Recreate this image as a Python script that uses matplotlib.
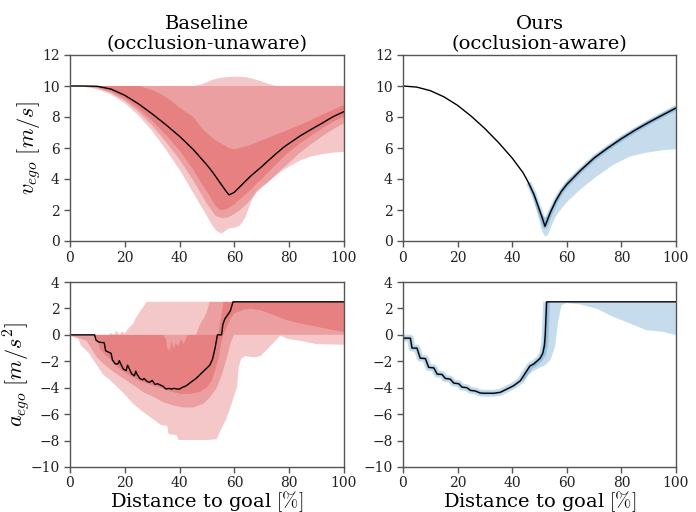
import numpy as np
import matplotlib
matplotlib.use("Agg")
import matplotlib.pyplot as plt

plt.rcParams['font.family'] = ['DejaVu Serif']
plt.rcParams['mathtext.fontset'] = 'cm'

# ---------------- Top-left: baseline velocity ----------------
tl_x = [0, 5, 10, 15, 20, 25, 30, 35, 40, 45, 48, 50, 52, 53, 54, 55, 56, 57, 58, 59, 60,
        62, 64, 66, 68, 70, 72, 75, 78, 80, 84, 88, 92, 96, 100]
tl_median = [10, 10, 9.98, 9.8, 9.4, 8.85, 8.2, 7.5, 6.75, 5.9, 5.3, 4.9, 4.45, 4.2, 3.95, 3.7,
             3.45, 3.2, 2.98, 3.05, 3.15, 3.5, 3.85, 4.2, 4.5, 4.8, 5.13, 5.6, 6.05, 6.3, 6.78,
             7.2, 7.6, 8.02, 8.35]
tl_outer_lo = [10, 9.95, 9.8, 9.45, 8.9, 8.1, 7.1, 5.9, 4.6, 3.1, 2.2, 1.6, 1.0, 0.75, 0.6, 0.5,
               0.55, 0.7, 0.8, 0.85, 0.85, 1.0, 1.5, 2.5, 3.2, 3.5, 3.75, 4.2, 4.6, 4.8, 5.2,
               5.45, 5.6, 5.7, 5.75]
tl_outer_hi = [10, 10, 10, 10, 10, 10, 10, 10, 10, 10, 10.1, 10.25, 10.4, 10.45, 10.5, 10.52,
               10.55, 10.57, 10.58, 10.6, 10.6, 10.6, 10.57, 10.5, 10.4, 10.3, 10.15, 10.02, 10,
               10, 10, 10, 10, 10, 10]
tl_mid_lo = [10, 9.97, 9.85, 9.55, 9.05, 8.35, 7.45, 6.4, 5.25, 3.9, 3.0, 2.4, 1.9, 1.65, 1.55,
             1.5, 1.48, 1.5, 1.55, 1.65, 1.75, 2.0, 2.3, 2.7, 3.1, 3.45, 3.75, 4.25, 4.75, 5.05,
             5.7, 6.25, 6.75, 7.2, 7.6]
tl_mid_hi = [10] * 35
tl_inner_lo = [10, 9.98, 9.9, 9.65, 9.2, 8.55, 7.75, 6.85, 5.85, 4.6, 3.7, 3.2, 2.6, 2.3, 2.1,
               2.0, 2.0, 2.05, 2.15, 2.25, 2.35, 2.7, 3.0, 3.3, 3.7, 4.0, 4.38, 4.9, 5.45, 5.75,
               6.3, 6.8, 7.25, 7.7, 8.02]
tl_inner_hi = [10, 10, 10, 10, 10, 10, 9.75, 9.3, 8.6, 8.0, 7.3, 6.95, 6.65, 6.52, 6.4, 6.3,
               6.2, 6.1, 6.0, 5.95, 5.92, 6.0, 6.1, 6.2, 6.35, 6.5, 6.63, 6.85, 7.06, 7.2, 7.49,
               7.8, 8.15, 8.45, 8.78]

# ---------------- Top-right: ours velocity ----------------
tr_x = [0, 5, 10, 15, 20, 25, 30, 35, 40, 44, 46, 48, 50, 51, 52, 53, 54, 56, 58, 60, 65, 70,
        75, 80, 85, 90, 95, 100]
tr_median = [10, 9.93, 9.7, 9.3, 8.75, 8.05, 7.25, 6.35, 5.35, 4.4, 3.75, 3.0, 2.0, 1.5, 0.95,
             1.4, 1.85, 2.6, 3.2, 3.65, 4.55, 5.35, 6.0, 6.6, 7.15, 7.65, 8.12, 8.58]
tr_band_hi_x = [45, 48, 50, 51, 52, 53, 54, 56, 60, 70, 80, 90, 100]
tr_band_hi = [4.2, 3.1, 2.15, 1.7, 1.5, 1.7, 2.05, 2.8, 3.85, 5.5, 6.75, 7.8, 8.75]
tr_band_lo_x = [45, 46, 48, 50, 51, 52, 53, 54, 56, 58.7, 60, 64.8, 70.9, 77, 83.1, 89.2, 95,
                100]
tr_band_lo = [4.05, 3.6, 2.6, 1.3, 0.6, 0.3, 0.35, 0.8, 1.6, 2.23, 2.5, 3.3, 4.16, 4.91, 5.45,
              5.7, 5.85, 5.92]

# ---------------- Bottom-left: baseline acceleration ----------------
bl_med_x = [0, 9, 9.5, 10.5, 12.5, 13, 15, 15.5, 16.5, 17.5, 18, 18.5, 19.5, 20.5, 21, 21.5,
            22.5, 23.5, 24, 24.5, 25.5, 26.5, 27, 28, 29, 30, 31, 32, 33, 34, 35, 36, 37, 38,
            39, 40, 41, 42, 43, 44, 45, 46, 47, 48, 49, 50, 51, 52, 53, 53.8, 55.3, 55.8, 56.5,
            57.5, 58.5, 59.5, 100]
bl_median = [0, 0, -0.4, -0.55, -0.6, -1.2, -1.4, -1.9, -2.2, -2.2, -1.95, -2.2, -2.6, -2.7,
             -2.3, -2.5, -2.95, -3.1, -2.75, -3.0, -3.3, -3.4, -3.3, -3.5, -3.6, -3.45, -3.75,
             -3.7, -3.8, -3.9, -4.1, -4.05, -4.1, -4.05, -4.1, -4.1, -3.97, -3.9, -3.77, -3.6,
             -3.45, -3.3, -3.1, -2.9, -2.7, -2.5, -2.3, -1.85, -0.95, 0, 0, 0.8, 1.2, 1.5, 1.8,
             2.5, 2.5]
bl_outer_hi_x = [0, 14, 15, 16, 17, 18, 19, 20, 21, 21.8, 22.9, 24.1, 25, 26, 27, 27.9, 100]
bl_outer_hi = [0, 0, 0.15, 0, 0.3, 0, 0.25, 0.1, 0.4, 0.6, 0.8, 1.3, 1.6, 1.9, 2.2, 2.5, 2.5]
bl_outer_lo_x = [0, 3, 4, 5, 7, 8.5, 10.5, 12, 14.5, 17, 19.5, 23, 27, 30.5, 33, 35.5, 36, 39,
                 39.6, 50, 53.5, 55, 57, 59, 61, 61.6, 62.5, 64, 67, 69.5, 72, 74.5, 76.8, 79.3,
                 84, 90, 100]
bl_outer_lo = [-0.1, -0.3, -0.8, -1.0, -1.4, -1.9, -2.5, -3.0, -3.4, -3.9, -4.4, -5.2, -5.9,
               -6.4, -6.8, -6.9, -7.5, -7.6, -7.96, -7.96, -7.9, -7.2, -6.4, -5.2, -3.9, -2.4,
               -1.8, -1.6, -1.7, -1.6, -1.1, -0.55, -0.05, -0.3, -0.45, -0.7, -0.75]
bl_mid_hi_x = [0, 46, 47, 48, 49, 50, 51, 100]
bl_mid_hi = [0, 0, 0.6, 1.0, 1.3, 1.8, 2.5, 2.5]
bl_mid_lo_x = [0, 6, 9.8, 12.2, 15.9, 19.5, 23.2, 26.8, 30.5, 34.1, 37.8, 41.5, 45.1, 48.8, 51.2,
               53.7, 55.5, 57.3, 58.5, 59.8, 100]
bl_mid_lo = [0, -0.45, -1.7, -2.2, -2.8, -3.3, -3.8, -4.35, -4.7, -5.1, -5.35, -5.5, -5.5, -5.2,
             -4.7, -3.97, -2.96, -1.7, -0.7, 0, 0]
bl_inner_hi_x = [0, 34, 35, 35.5, 36.5, 37, 38, 38.5, 39.5, 40.5, 41.5, 42.5, 43, 54, 55, 56, 100]
bl_inner_hi = [0, 0, -0.3, -1.0, -1.2, -0.5, -1.1, -0.6, -0.9, -0.3, -0.7, -0.2, 0, 0, 1.2, 2.5,
               2.5]
bl_inner_lo_x = [0, 9, 9.8, 11, 13.4, 15.9, 18.3, 22, 25.6, 29.3, 32.9, 36.6, 40.2, 43.9, 47.6,
                 50, 51.8, 53, 54.3, 55.1, 55.9, 57.3, 58.5, 59.8, 63.4, 65.9, 69.6, 74.5, 79.3,
                 84.2, 90.3, 96.4, 100]
bl_inner_lo = [0, 0, -0.3, -1.1, -1.6, -2.1, -2.6, -3.1, -3.5, -3.77, -4.0, -4.27, -4.47, -4.47,
               -4.3, -3.97, -3.47, -2.7, -1.7, -0.7, 0, 0.6, 1.2, 1.6, 1.91, 1.98, 1.86, 1.49,
               1.11, 0.86, 0.6, 0.35, 0.23]

# ---------------- Bottom-right: ours acceleration ----------------
br_med_x = [0, 2.7, 3.3, 5.1, 6.3, 8.2, 9.4, 11.3, 12.5, 14.3, 15.5, 17.3, 18.6, 20.4, 21.6,
            23.4, 24.7, 26.5, 28.3, 30, 33.2, 35.6, 38.1, 40.5, 43, 45.4, 46.5, 47.9, 49, 50.2,
            51.2, 51.8, 52.1, 52.4, 52.6, 100]
br_median = [-0.25, -0.25, -1.0, -1.0, -1.76, -1.8, -2.46, -2.5, -2.97, -3.0, -3.3, -3.35,
             -3.65, -3.7, -3.95, -4.0, -4.2, -4.25, -4.4, -4.42, -4.42, -4.35, -4.1, -3.85,
             -3.47, -2.7, -2.35, -2.2, -2.0, -1.78, -1.4, -0.8, 0, 1.5, 2.5, 2.5]
br_band_hi_x = [44, 46, 48, 50, 51, 52, 52.6, 100]
br_band_hi = [-3.2, -2.5, -2.1, -1.7, -1.3, 0, 2.5, 2.5]
br_band_lo_x = [44, 46, 48, 50, 52, 54, 55.7, 56.9, 58.1, 59.9, 64.8, 70.9, 77, 83.1, 89.2, 95.2,
                100]
br_band_lo = [-3.6, -3.0, -2.7, -2.5, -2.3, -1.9, -0.9, 1.1, 2.24, 2.41, 2.3, 1.99, 1.36, 0.86,
              0.35, 0.23, -0.02]

titles = ["Baseline\n(occlusion-unaware)", "Ours\n(occlusion-aware)"]
xlabel = "Distance to goal $[\\%]$"
ylabels = ["$v_{ego}\\ [m/s]$", "$a_{ego}\\ [m/s^2]$"]
xticks = [0, 20, 40, 60, 80, 100]
v_ticks = [0, 2, 4, 6, 8, 10, 12]
a_ticks = [-10, -8, -6, -4, -2, 0, 2, 4]

RED = '#d62728'
BLUE = '#1f77b4'
A = 0.25


def band(ax, xh, yh, xl, yl, color, alpha=A):
    px = np.concatenate([np.asarray(xh, float), np.asarray(xl, float)[::-1]])
    py = np.concatenate([np.asarray(yh, float), np.asarray(yl, float)[::-1]])
    ax.fill(px, py, color=color, alpha=alpha, lw=0)


fig = plt.figure(figsize=(6.96, 5.12), dpi=100)
L1, R1 = 70 / 696, 344 / 696
L2, R2 = 403 / 696, 676 / 696
T1, B1 = 1 - 55 / 512, 1 - 241 / 512
T2, B2 = 1 - 282 / 512, 1 - 467 / 512
ax_tl = fig.add_axes([L1, B1, R1 - L1, T1 - B1])
ax_tr = fig.add_axes([L2, B1, R2 - L2, T1 - B1])
ax_bl = fig.add_axes([L1, B2, R1 - L1, T2 - B2])
ax_br = fig.add_axes([L2, B2, R2 - L2, T2 - B2])

# TL
band(ax_tl, tl_x, tl_outer_hi, tl_x, tl_outer_lo, RED)
band(ax_tl, tl_x, tl_mid_hi, tl_x, tl_mid_lo, RED)
band(ax_tl, tl_x, tl_inner_hi, tl_x, tl_inner_lo, RED)
ax_tl.plot(tl_x, tl_median, color='black', lw=1.0)

# TR
band(ax_tr, tr_band_hi_x, tr_band_hi, tr_band_lo_x, tr_band_lo, BLUE)
ax_tr.plot(tr_x[10:], tr_median[10:], color=BLUE, lw=4, alpha=0.2, solid_capstyle='butt')
ax_tr.plot(tr_x[10:], tr_median[10:], color=BLUE, lw=2.2, alpha=0.25, solid_capstyle='butt')
ax_tr.plot(tr_x, tr_median, color='black', lw=1.0)

# BL
band(ax_bl, bl_outer_hi_x, bl_outer_hi, bl_outer_lo_x, bl_outer_lo, RED)
band(ax_bl, bl_mid_hi_x, bl_mid_hi, bl_mid_lo_x, bl_mid_lo, RED)
band(ax_bl, bl_inner_hi_x, bl_inner_hi, bl_inner_lo_x, bl_inner_lo, RED)
ax_bl.plot(bl_med_x, bl_median, color='black', lw=1.0)

# BR
band(ax_br, br_band_hi_x, br_band_hi, br_band_lo_x, br_band_lo, BLUE)
ax_br.plot(br_med_x[:-1], br_median[:-1], color=BLUE, lw=5, alpha=0.25, solid_capstyle='butt')
ax_br.plot(br_med_x[:-1], br_median[:-1], color=BLUE, lw=2.2, alpha=0.2, solid_capstyle='butt')
ax_br.plot(br_med_x, br_median, color='black', lw=1.0)

for ax in (ax_tl, ax_tr, ax_bl, ax_br):
    ax.set_xlim(0, 100)
    ax.set_xticks(xticks)
    for s in ax.spines.values():
        s.set_color('#555555')
        s.set_linewidth(1.0)
    ax.tick_params(colors='#555555', labelcolor='#222222', labelsize=10, length=4, width=1)

for ax in (ax_tl, ax_tr):
    ax.set_ylim(0, 12)
    ax.set_yticks(v_ticks)
for ax in (ax_bl, ax_br):
    ax.set_ylim(-10, 4)
    ax.set_yticks(a_ticks)
    ax.tick_params(axis='x', pad=2.5)
    ax.set_xlabel(xlabel, fontsize=14, labelpad=-0.5)

ax_tl.set_title(titles[0], fontsize=14, pad=4)
ax_tr.set_title(titles[1], fontsize=14, pad=4)
ax_tl.set_ylabel(ylabels[0], fontsize=16, labelpad=-1)
ax_bl.set_ylabel(ylabels[1], fontsize=16, labelpad=-1)

fig.savefig("out.png", dpi=100)
